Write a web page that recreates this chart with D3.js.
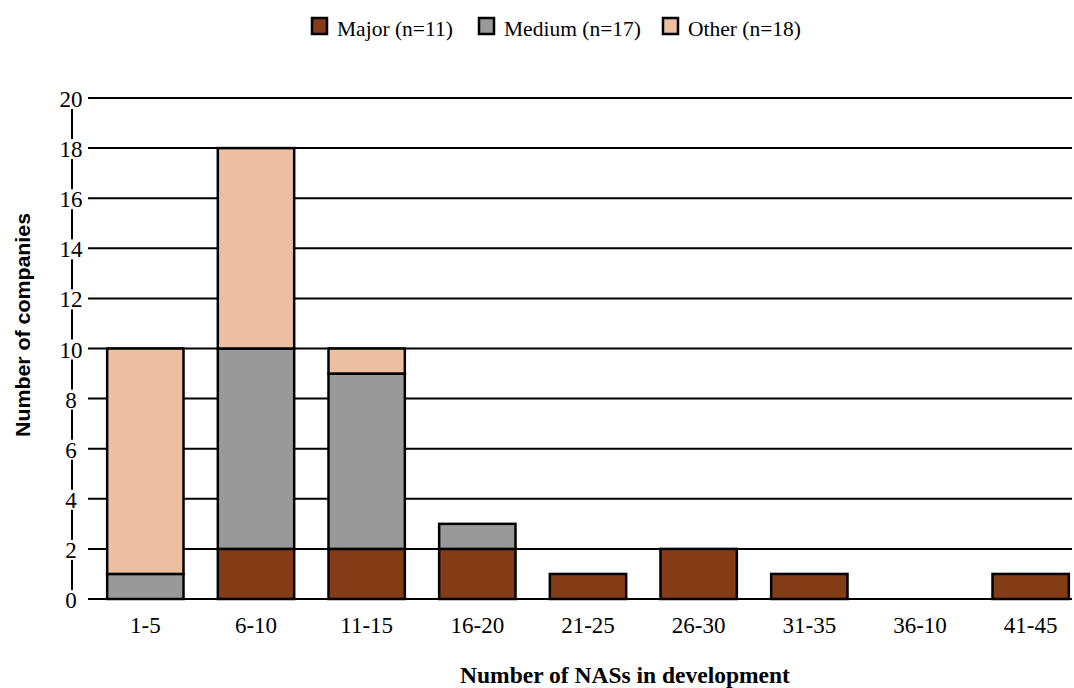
<!DOCTYPE html>
<html><head><meta charset="utf-8">
<script src="https://cdn.jsdelivr.net/npm/d3@7"></script>
<style>
body{margin:0;background:#fff}svg{display:block}
.serif{font-family:'Liberation Serif','Times New Roman',Times,serif;}
.sans{font-family:'Liberation Sans',Arial,sans-serif;}
</style>
</head><body>
<svg id="c" width="1074" height="688"></svg>
<script>
const categories = ["1-5","6-10","11-15","16-20","21-25","26-30","31-35","36-10","41-45"];
const major  = [0,2,2,2,1,2,1,0,1];
const medium = [1,8,7,1,0,0,0,0,0];
const other  = [9,8,1,0,0,0,0,0,0];
const seriesNames = ["Major (n=11)","Medium (n=17)","Other (n=18)"];
const seriesColors = ["#833C15","#999999","#EBBFA0"];
const yTicks = [0,2,4,6,8,10,12,14,16,18,20];

const svg = d3.select("#c");
const x = d3.scaleBand().domain(categories).range([90, 1086]).paddingInner(0.31).paddingOuter(0.155);
const y = d3.scaleLinear().domain([0,20]).range([599, 98]);

// gridlines
svg.append("g").selectAll("line").data(yTicks).join("line")
  .attr("x1",88).attr("x2",1072).attr("y1",d=>y(d)).attr("y2",d=>y(d))
  .attr("stroke","#000").attr("stroke-width",2);

// y axis line
svg.append("line").attr("x1",72).attr("x2",72).attr("y1",y(20)).attr("y2",y(0))
  .attr("stroke","#000").attr("stroke-width",2);
const yl = svg.append("g").selectAll("g").data(yTicks).join("g");
yl.append("rect").attr("x",56).attr("y",d=>y(d)-9).attr("width",30).attr("height",20).attr("fill","#fff");
yl.append("text").attr("class","serif").attr("x",71).attr("y",d=>y(d)+9).attr("text-anchor","middle")
  .attr("font-size",23).text(d=>d);

// stacked bars
const rows = categories.map((c,i)=>({cat:c, major:major[i], medium:medium[i], other:other[i]}));
const stack = d3.stack().keys(["major","medium","other"])(rows);
svg.append("g").selectAll("g").data(stack).join("g")
  .attr("fill",(d,i)=>seriesColors[i])
  .selectAll("rect").data(d=>d.filter(p=>p[1]-p[0]>0)).join("rect")
  .attr("x",d=>x(d.data.cat)).attr("width",x.bandwidth())
  .attr("y",d=>y(d[1])).attr("height",d=>y(d[0])-y(d[1]))
  .attr("stroke","#000").attr("stroke-width",2.5);

// x labels
svg.append("g").selectAll("text").data(categories).join("text").attr("class","serif")
  .attr("x",d=>x(d)+x.bandwidth()/2).attr("y",633).attr("text-anchor","middle")
  .attr("font-size",23).text(d=>d);

// axis titles
svg.append("text").attr("class","serif").attr("x",625).attr("y",683).attr("text-anchor","middle")
  .attr("font-weight","bold").attr("font-size",23.5)
  .text("Number of NASs in development");
svg.append("text").attr("class","sans").attr("transform","translate(30,325) rotate(-90)").attr("text-anchor","middle")
  .attr("font-weight","bold").attr("font-size",20)
  .attr("textLength",224).attr("lengthAdjust","spacingAndGlyphs").text("Number of companies");

// legend
const legX = [311, 478, 662];
const lg = svg.append("g").selectAll("g").data(seriesNames).join("g")
  .attr("transform",(d,i)=>`translate(${legX[i]},17)`);
lg.append("rect").attr("x",1).attr("y",1).attr("width",15).attr("height",16)
  .attr("fill",(d,i)=>seriesColors[i]).attr("stroke","#000").attr("stroke-width",2.5);
lg.append("text").attr("class","serif").attr("x",26).attr("y",19)
  .attr("font-size",21.5).text(d=>d);
</script>
</body></html>
